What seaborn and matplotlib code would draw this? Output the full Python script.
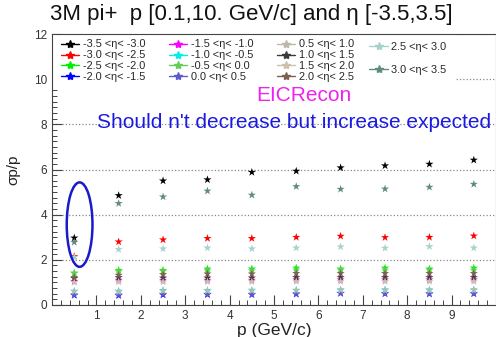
import matplotlib
matplotlib.use("Agg")
import matplotlib.pyplot as plt
from matplotlib.lines import Line2D
from matplotlib.patches import Ellipse, Rectangle
from matplotlib.ticker import MultipleLocator
import pandas as pd
import seaborn as sns

p_vals = [0.5, 1.5, 2.5, 3.5, 4.5, 5.5, 6.5, 7.5, 8.5, 9.5]

eta_bins = [
    "-3.5 <η< -3.0", "-3.0 <η< -2.5", "-2.5 <η< -2.0", "-2.0 <η< -1.5",
    "-1.5 <η< -1.0", "-1.0 <η< -0.5", "-0.5 <η< 0.0", "0.0 <η< 0.5",
    "0.5 <η< 1.0", "1.0 <η< 1.5", "1.5 <η< 2.0", "2.0 <η< 2.5",
    "2.5 <η< 3.0", "3.0 <η< 3.5",
]

res_m35 = [2.97, 4.85, 5.50, 5.55, 5.88, 5.93, 6.08, 6.17, 6.24, 6.42]
res_m30 = [2.15, 2.80, 2.89, 2.95, 2.95, 3.00, 3.05, 2.99, 3.00, 3.06]
res_m25 = [1.42, 1.54, 1.54, 1.60, 1.60, 1.64, 1.60, 1.64, 1.60, 1.64]
res_m20 = [0.43, 0.42, 0.45, 0.46, 0.46, 0.48, 0.52, 0.50, 0.49, 0.50]
res_m15 = [1.05, 1.10, 1.10, 1.10, 1.10, 1.12, 1.12, 1.12, 1.12, 1.12]
res_m10 = [0.62, 0.62, 0.65, 0.65, 0.66, 0.66, 0.68, 0.68, 0.68, 0.68]
res_m05 = [1.40, 1.48, 1.50, 1.52, 1.52, 1.55, 1.55, 1.55, 1.55, 1.55]
res_p00 = [0.45, 0.45, 0.48, 0.48, 0.48, 0.50, 0.52, 0.52, 0.50, 0.52]
res_p05 = [0.60, 0.58, 0.62, 0.62, 0.63, 0.64, 0.65, 0.64, 0.64, 0.65]
res_p10 = [1.18, 1.22, 1.20, 1.20, 1.20, 1.22, 1.22, 1.22, 1.22, 1.22]
res_p15 = [1.00, 1.02, 1.02, 1.03, 1.03, 1.04, 1.04, 1.04, 1.04, 1.04]
res_p20 = [1.22, 1.32, 1.35, 1.38, 1.38, 1.40, 1.40, 1.40, 1.40, 1.40]
res_p25 = [2.12, 2.46, 2.49, 2.53, 2.49, 2.53, 2.58, 2.52, 2.59, 2.53]
res_p30 = [2.78, 4.50, 4.79, 5.05, 4.87, 5.25, 5.13, 5.14, 5.22, 5.35]

all_res = [res_m35, res_m30, res_m25, res_m20, res_m15, res_m10, res_m05,
           res_p00, res_p05, res_p10, res_p15, res_p20, res_p25, res_p30]

colors = ["#000000", "#ff0000", "#00ee00", "#0000ff", "#ff00ff", "#00eeee",
          "#66cc55", "#5c5cd0", "#bdb8aa", "#3a3a3a", "#cbc1aa", "#7f6050",
          "#a5d2ca", "#5f8c7d"]
palette = dict(zip(eta_bins, colors))

df = pd.DataFrame([
    {"p": p, "res": r, "eta": eta}
    for eta, vals in zip(eta_bins, all_res)
    for p, r in zip(p_vals, vals)
])

sns.set_theme(style="white")
plt.rcParams["font.family"] = ["Liberation Sans", "DejaVu Sans"]

fig = plt.figure(figsize=(4.96, 3.37), dpi=100)
ax = fig.add_axes([0.105, 0.095, 0.895, 0.804])

sns.scatterplot(df, x="p", y="res", hue="eta", hue_order=eta_bins, palette=palette,
                marker="*", s=38, linewidth=0, legend=False, ax=ax, zorder=3)

ax.set_xlim(0, 10)
ax.set_ylim(0, 12)
ax.set_xticks(range(1, 10))
ax.set_yticks(range(0, 13, 2))
ax.xaxis.set_minor_locator(MultipleLocator(0.2))
ax.yaxis.set_minor_locator(MultipleLocator(0.25))
ax.tick_params(which="both", direction="in", bottom=True, left=True, top=False, right=False,
               labelsize=8.5, labelcolor="#333333", color="#444444")
ax.tick_params(which="major", length=7, width=0.8)
ax.tick_params(which="minor", length=3.5, width=0.7)
ax.yaxis.grid(True, which="major", linestyle=":", color="#888888", linewidth=0.9)
for s in ax.spines.values():
    s.set_color("#444444")
    s.set_linewidth(0.8)

ax.set_xlabel("p (GeV/c)", fontsize=12.5, color="#222222", labelpad=1)
ax.set_ylabel("σp/p", fontsize=11, color="#222222", labelpad=10)

# legend box (white, hides the grid under it)
ax.add_patch(Rectangle((0, 0.805), 0.908, 0.195, transform=ax.transAxes,
                       facecolor="white", edgecolor="none", zorder=1.8))

handles = [Line2D([0], [0], color=c, marker="*", markersize=6, lw=1) for c in colors]
leg1 = ax.legend(handles[:12], eta_bins[:12], ncol=3, loc="upper left",
                 bbox_to_anchor=(0.02, 0.98), frameon=False, fontsize=7.8,
                 handlelength=1.7, handletextpad=0.3, labelspacing=0.08,
                 columnspacing=2.2, borderpad=0, borderaxespad=0)
leg1.set_zorder(5)
ax.add_artist(leg1)
leg2 = ax.legend(handles[12:], eta_bins[12:], loc="upper left",
                 bbox_to_anchor=(0.715, 0.97), frameon=False, fontsize=7.8,
                 handlelength=1.7, handletextpad=0.3, labelspacing=1.2,
                 borderpad=0, borderaxespad=0)
leg2.set_zorder(5)

ax.add_patch(Ellipse((0.62, 3.56), width=0.58, height=3.74, fill=False,
                     edgecolor="#1a1acc", linewidth=1.8, zorder=6))

ax.text(5.68, 9.3, "EICRecon", color="#ee22ee", fontsize=15, ha="center",
        va="center", zorder=6)
ax.text(1.02, 8.1, "Should n't decrease but increase expected", color="#1a1ae0",
        fontsize=15.0, ha="left", va="center", zorder=6)

fig.text(0.506, 0.957, "3M pi+  p [0.1,10. GeV/c] and η [-3.5,3.5]",
         fontsize=16, ha="center", va="center", color="#111111")

fig.savefig("out.png", dpi=100)
